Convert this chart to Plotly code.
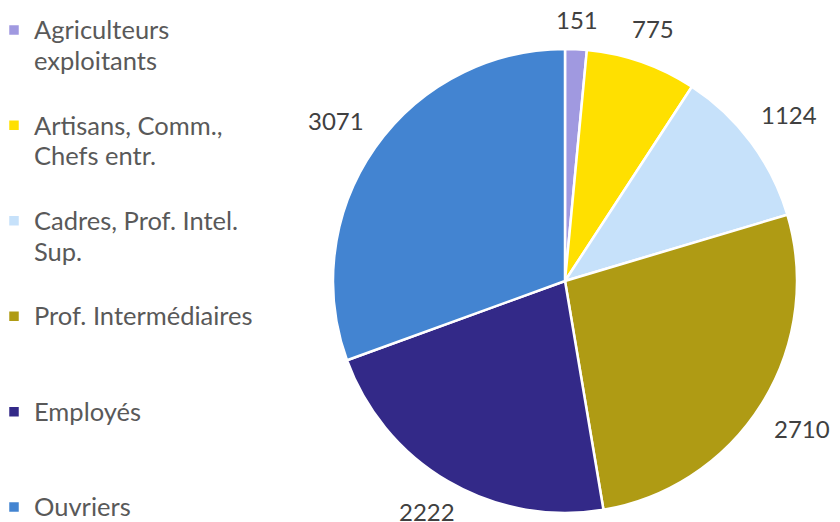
import math
import plotly.graph_objects as go

categories = [
    "Agriculteurs<br>exploitants",
    "Artisans, Comm.,<br>Chefs entr.",
    "Cadres, Prof. Intel.<br>Sup.",
    "Prof. Intermédiaires",
    "Employés",
    "Ouvriers",
]
values = [151, 775, 1124, 2710, 2222, 3071]
colors = ["#A099E0", "#FFE000", "#C6E1FA", "#AF9B14", "#332988", "#4384D1"]

W, H = 840, 522
# pie geometry in figure pixels
cx, cy, r = 557, 273, 232
FS = 24
VISIBLE_BOTTOM = H - 8  # page body margin shifts the figure down by 8px


def legend_label(name, last):
    lines = name.split("<br>")
    body = "<br>".join('<span style="font-size:25.5px">%s</span>' % ln for ln in lines)
    if not last:
        body += "<br> " * (3 - len(lines))
    return body


labels = [legend_label(c, i == len(categories) - 1) for i, c in enumerate(categories)]

fig = go.Figure(go.Pie(
    labels=labels,
    values=values,
    sort=False,
    direction="clockwise",
    rotation=0,
    marker=dict(colors=colors, line=dict(color="white", width=2.5)),
    textinfo="none",
    hoverinfo="skip",
    domain=dict(x=[(cx - r) / W, (cx + r) / W],
                y=[(H - cy - r) / H, (H - cy + r) / H]),
))

# value labels placed just outside each slice, from the data
total = sum(values)
cum = 0
for v in values:
    a = math.radians(360 * (cum + v / 2) / total)
    cum += v
    tw = len(str(v)) * 0.59 * FS
    th = 0.9 * FS
    rad = r + 18 + abs(math.sin(a)) * tw / 2 + abs(math.cos(a)) * th / 2
    px = cx + rad * math.sin(a)
    py = cy - rad * math.cos(a)
    py = min(py, VISIBLE_BOTTOM - 0.45 * FS)  # keep the label inside the view
    fig.add_annotation(
        x=px / W, y=1 - py / H, xref="paper", yref="paper",
        text=str(v), showarrow=False, xanchor="center", yanchor="middle",
        font=dict(family="Lato", size=FS, color="#404040"),
    )

fig.update_layout(
    width=W, height=H,
    margin=dict(l=0, r=0, t=0, b=0, autoexpand=False),
    paper_bgcolor="white",
    showlegend=True,
    legend=dict(
        x=-14 / W, xanchor="left", y=1, yanchor="top",
        font=dict(family="Lato", size=23.7, color="#595959"),
        valign="top",
        traceorder="normal",
        bgcolor="rgba(0,0,0,0)",
    ),
)

fig.write_html("out.html")
